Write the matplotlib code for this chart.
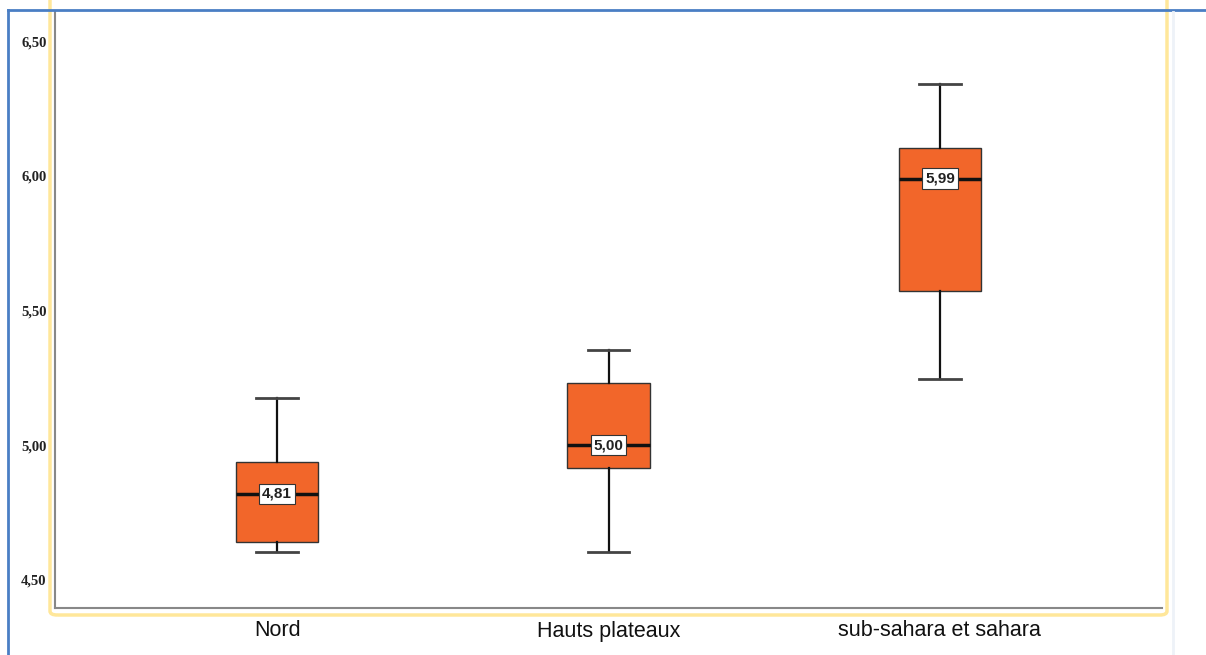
import matplotlib.pyplot as plt
from matplotlib.patches import FancyBboxPatch
from matplotlib.lines import Line2D

# box statistics
regions = ['Nord', 'Hauts plateaux', 'sub-sahara et sahara']
whisker_low = [4.604, 4.604, 5.246]
q1 = [4.641, 4.916, 5.572]
median = [4.82, 5.00, 5.99]
q3 = [4.938, 5.231, 6.103]
whisker_high = [5.175, 5.353, 6.34]
median_labels = ['4,81', '5,00', '5,99']

yticks = [4.5, 5.0, 5.5, 6.0, 6.5]
ytick_labels = ['4,50', '5,00', '5,50', '6,00', '6,50']

fig = plt.figure(figsize=(12.06, 6.55), dpi=100)
ax = fig.add_axes([55/1206, 47/655, 1107/1206, 596/655])

stats = []
for i in range(len(regions)):
    stats.append({'whislo': whisker_low[i], 'q1': q1[i], 'med': median[i],
                  'q3': q3[i], 'whishi': whisker_high[i], 'fliers': []})

ax.bxp(stats, positions=range(len(regions)), widths=0.25, patch_artist=True,
       showfliers=False,
       boxprops=dict(facecolor='#F2662A', edgecolor='#333333', linewidth=1.0),
       medianprops=dict(color='#111111', linewidth=2.5),
       whiskerprops=dict(color='#111111', linewidth=1.6),
       capprops=dict(color='#444444', linewidth=2.0), capwidths=0.125)

for i, lab in enumerate(median_labels):
    ax.text(i, median[i], lab, ha='center', va='center', fontsize=11,
            fontweight='bold', family='Liberation Sans', color='#222222',
            bbox=dict(boxstyle='square,pad=0.2', facecolor='white',
                      edgecolor='#333333', linewidth=0.8), zorder=5)

ax.set_xlim(-0.67, 2.67)
ax.set_ylim(4.396, 6.608)
ax.set_yticks(yticks)
ax.set_yticklabels(ytick_labels, fontsize=10.5, fontweight='bold',
                   family='Liberation Serif', color='#222222')
ax.set_xticks(range(len(regions)))
ax.set_xticklabels(regions, fontsize=15.5, family='Liberation Sans', color='#111111')
ax.tick_params(axis='both', length=0)
ax.tick_params(axis='y', pad=6)
ax.tick_params(axis='x', pad=9)

for s in ['top', 'right']:
    ax.spines[s].set_visible(False)
for s in ['left', 'bottom']:
    ax.spines[s].set_color('#888888')
    ax.spines[s].set_linewidth(1.5)

# surrounding frame decoration
fig.patches.append(FancyBboxPatch((50/1206, 40/655), 1117/1206, 640/655,
                                  boxstyle='round,pad=0,rounding_size=0.006',
                                  transform=fig.transFigure, facecolor='none',
                                  edgecolor='#FFE79A', linewidth=2.5, zorder=-1))
fig.lines.append(Line2D([8/1206, 8/1206], [0, 645/655], transform=fig.transFigure,
                        color='#4A7EC4', linewidth=2))
fig.lines.append(Line2D([8/1206, 1], [645/655, 645/655], transform=fig.transFigure,
                        color='#4A7EC4', linewidth=2))
fig.lines.append(Line2D([1173/1206, 1173/1206], [0, 643/655], transform=fig.transFigure,
                        color='#EEF2F8', linewidth=2))

fig.savefig('out.png', dpi=100)
